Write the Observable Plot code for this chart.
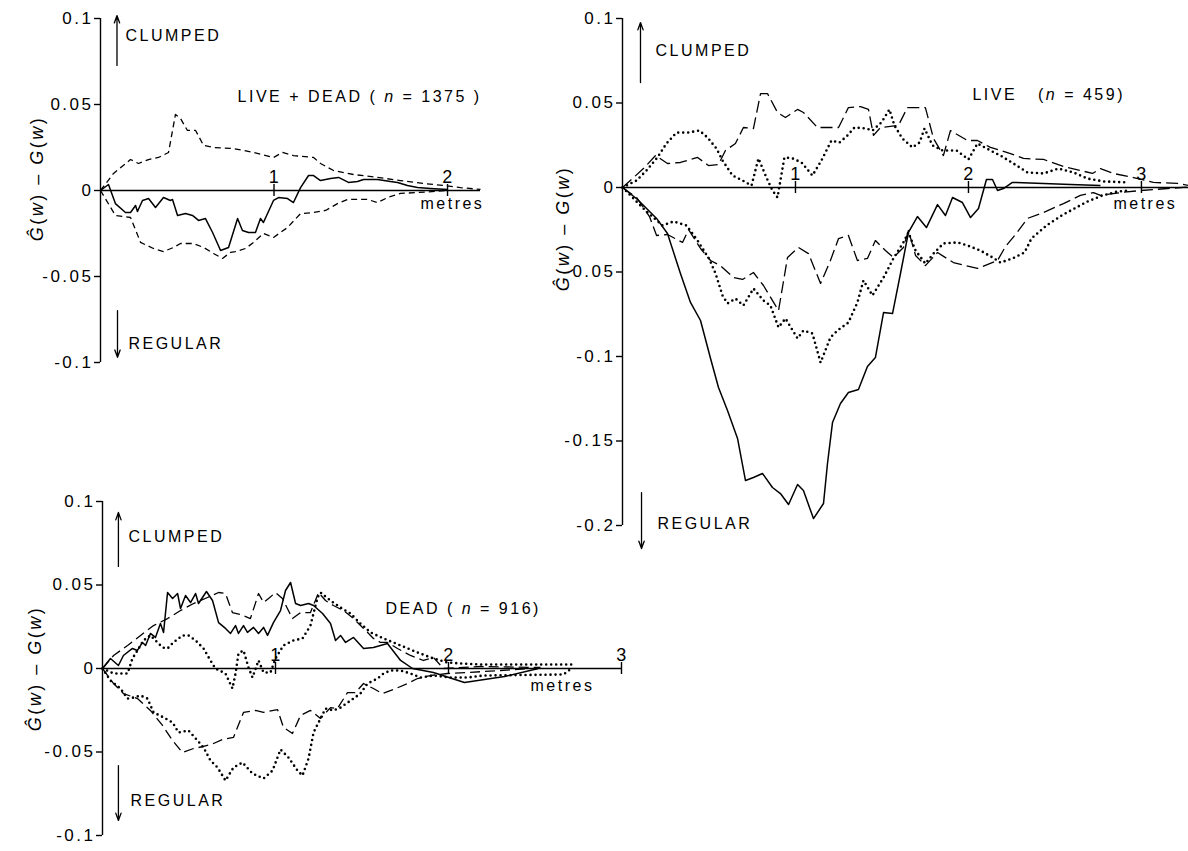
<!DOCTYPE html>
<html>
<head>
<meta charset="utf-8">
<script src="https://cdn.jsdelivr.net/npm/d3@7"></script>
<script src="https://cdn.jsdelivr.net/npm/@observablehq/plot@0.6"></script>
<style>
  html, body { margin: 0; padding: 0; background: #fff; }
  #wrap { position: relative; width: 1188px; height: 851px; overflow: hidden; background: #fff; }
  .panel { position: absolute; }
  .panel svg { overflow: visible; }
  .panel text { letter-spacing: 2.5px; }
</style>
</head>
<body>
<div id="wrap"></div>
<script>
// ---------------- DATA ----------------
// LIVE + DEAD (n = 1375): [distance in metres, Ghat(w) - G(w)]
const ldObserved = [[0,0],[0.046,0.0035],[0.086,-0.0076],[0.144,-0.0128],[0.173,-0.0128],[0.202,-0.0087],[0.213,-0.0122],[0.242,-0.0058],[0.277,-0.0047],[0.317,-0.0099],[0.363,-0.0041],[0.403,-0.0058],[0.415,-0.0052],[0.444,-0.0145],[0.490,-0.0134],[0.530,-0.0145],[0.565,-0.0174],[0.605,-0.0163],[0.646,-0.0244],[0.692,-0.0349],[0.738,-0.0331],[0.790,-0.0163],[0.818,-0.0233],[0.853,-0.0244],[0.893,-0.0244],[0.922,-0.0163],[0.939,-0.0186],[0.997,-0.0058],[1.026,-0.0041],[1.078,-0.0047],[1.112,-0.0070],[1.153,0.0017],[1.199,0.0087],[1.228,0.0087],[1.268,0.0058],[1.326,0.0070],[1.372,0.0076],[1.429,0.0047],[1.481,0.0052],[1.516,0.0064],[1.597,0.0064],[1.671,0.0052],[1.712,0.0047],[1.769,0.0029],[1.827,0.0017],[1.902,0.0012],[2.0,0.0006]];
const ldUpper = [[0,0],[0.075,0.0099],[0.173,0.018],[0.219,0.0157],[0.277,0.018],[0.334,0.0192],[0.392,0.0221],[0.432,0.0442],[0.461,0.0419],[0.501,0.0349],[0.548,0.0349],[0.594,0.0262],[0.651,0.025],[0.767,0.0244],[0.882,0.0221],[0.997,0.0192],[1.049,0.0221],[1.112,0.0203],[1.228,0.0192],[1.268,0.0157],[1.343,0.0116],[1.458,0.0093],[1.597,0.0076],[1.729,0.0058],[1.862,0.0041],[1.977,0.0029],[2.075,0.0017],[2.19,0.0006]];
const ldLower = [[0,0],[0.086,-0.0145],[0.173,-0.0157],[0.231,-0.0302],[0.305,-0.0337],[0.363,-0.0355],[0.421,-0.0331],[0.461,-0.0308],[0.536,-0.0308],[0.594,-0.0331],[0.651,-0.0366],[0.703,-0.0395],[0.749,-0.0360],[0.778,-0.0355],[0.836,-0.0337],[0.882,-0.0302],[0.939,-0.0250],[0.997,-0.0273],[1.078,-0.0215],[1.153,-0.0134],[1.228,-0.0128],[1.297,-0.0116],[1.366,-0.0076],[1.424,-0.0052],[1.539,-0.0052],[1.597,-0.0070],[1.654,-0.0041],[1.729,-0.0017],[1.827,-0.0012],[2.0,0]];

// LIVE (n = 459)
const liveObserved = [[0,0],[0.087,-0.0071],[0.197,-0.0183],[0.260,-0.0272],[0.335,-0.0509],[0.393,-0.0680],[0.451,-0.0787],[0.509,-0.1012],[0.555,-0.1183],[0.607,-0.1320],[0.665,-0.1485],[0.711,-0.1734],[0.757,-0.1716],[0.809,-0.1692],[0.867,-0.1775],[0.913,-0.1811],[0.960,-0.1876],[1.012,-0.1757],[1.046,-0.1793],[1.104,-0.1959],[1.162,-0.1870],[1.185,-0.1633],[1.214,-0.1391],[1.260,-0.1278],[1.306,-0.1213],[1.364,-0.1195],[1.416,-0.1059],[1.462,-0.1006],[1.509,-0.0740],[1.561,-0.0746],[1.607,-0.0509],[1.653,-0.0266],[1.705,-0.0172],[1.757,-0.0237],[1.821,-0.0101],[1.867,-0.0166],[1.908,-0.0059],[1.965,-0.0089],[2.012,-0.0178],[2.058,-0.0124],[2.104,0.0047],[2.139,0.0047],[2.168,-0.0018],[2.202,-0.0006],[2.254,0.0030],[2.434,0.0024],[2.590,0.0018],[2.763,0.0012]];
const liveUpperDash = [[0,0],[0.064,0.0059],[0.121,0.0112],[0.191,0.0189],[0.260,0.0142],[0.335,0.0148],[0.434,0.0178],[0.497,0.0130],[0.555,0.0136],[0.595,0.0219],[0.653,0.0260],[0.699,0.0355],[0.757,0.0349],[0.798,0.0556],[0.838,0.0556],[0.896,0.0444],[0.942,0.0414],[1.012,0.0462],[1.046,0.0444],[1.127,0.0355],[1.249,0.0355],[1.306,0.0473],[1.376,0.0479],[1.422,0.0462],[1.451,0.0308],[1.491,0.0355],[1.595,0.0367],[1.647,0.0473],[1.751,0.0473],[1.798,0.0290],[1.855,0.0189],[1.896,0.0337],[1.994,0.0278],[2.052,0.0278],[2.127,0.0237],[2.243,0.0201],[2.318,0.0172],[2.434,0.0166],[2.549,0.0124],[2.647,0.0101],[2.717,0.0083],[2.763,0.0112],[2.838,0.0083],[2.954,0.0059],[3.069,0.0030],[3.208,0.0024],[3.272,0.0012]];
const liveLowerDash = [[0,0],[0.081,-0.0059],[0.156,-0.0172],[0.197,-0.0284],[0.260,-0.0278],[0.347,-0.0325],[0.382,-0.0249],[0.451,-0.0361],[0.509,-0.0432],[0.566,-0.0462],[0.642,-0.0533],[0.694,-0.0544],[0.757,-0.0503],[0.815,-0.0580],[0.902,-0.0728],[0.954,-0.0414],[1.017,-0.0355],[1.075,-0.0391],[1.145,-0.0568],[1.202,-0.0432],[1.249,-0.0302],[1.306,-0.0284],[1.358,-0.0432],[1.416,-0.0420],[1.462,-0.0314],[1.520,-0.0373],[1.566,-0.0414],[1.624,-0.0355],[1.653,-0.0254],[1.694,-0.0402],[1.751,-0.0462],[1.821,-0.0385],[1.913,-0.0444],[2.052,-0.0479],[2.168,-0.0432],[2.214,-0.0349],[2.277,-0.0272],[2.341,-0.0183],[2.434,-0.0148],[2.549,-0.0095],[2.647,-0.0047],[2.723,-0.0030],[2.763,-0.0047],[2.879,-0.0030],[2.994,-0.0018],[3.150,-0.0006],[3.272,0.0003]];
const liveUpperDot = [[0,0],[0.081,0.0041],[0.139,0.0101],[0.202,0.0178],[0.254,0.0260],[0.312,0.0325],[0.376,0.0325],[0.445,0.0337],[0.491,0.0296],[0.543,0.0231],[0.578,0.0160],[0.636,0.0071],[0.694,0.0041],[0.746,0.0012],[0.786,0.0172],[0.832,0.0059],[0.867,-0.0018],[0.896,-0.0059],[0.936,0.0178],[0.983,0.0172],[1.035,0.0148],[1.098,0.0071],[1.150,0.0160],[1.208,0.0278],[1.254,0.0266],[1.301,0.0308],[1.341,0.0355],[1.410,0.0349],[1.445,0.0337],[1.497,0.0385],[1.543,0.0462],[1.572,0.0367],[1.618,0.0290],[1.676,0.0237],[1.717,0.0266],[1.746,0.0349],[1.792,0.0249],[1.850,0.0219],[1.931,0.0219],[2.000,0.0166],[2.052,0.0260],[2.127,0.0219],[2.185,0.0189],[2.260,0.0142],[2.341,0.0089],[2.434,0.0083],[2.520,0.0112],[2.607,0.0089],[2.688,0.0053],[2.780,0.0036],[2.919,0.0030]];
const liveLowerDot = [[0,0],[0.133,-0.0136],[0.231,-0.0225],[0.295,-0.0201],[0.370,-0.0225],[0.434,-0.0314],[0.503,-0.0426],[0.538,-0.0509],[0.578,-0.0639],[0.607,-0.0686],[0.653,-0.0657],[0.699,-0.0698],[0.757,-0.0598],[0.815,-0.0669],[0.855,-0.0698],[0.902,-0.0828],[0.942,-0.0775],[1.012,-0.0893],[1.046,-0.0846],[1.098,-0.0864],[1.145,-0.1036],[1.202,-0.0888],[1.243,-0.0846],[1.306,-0.0799],[1.358,-0.0680],[1.393,-0.0550],[1.445,-0.0639],[1.509,-0.0533],[1.566,-0.0420],[1.624,-0.0325],[1.653,-0.0266],[1.694,-0.0373],[1.751,-0.0450],[1.798,-0.0391],[1.855,-0.0331],[1.936,-0.0325],[1.994,-0.0343],[2.069,-0.0373],[2.139,-0.0414],[2.185,-0.0444],[2.254,-0.0420],[2.324,-0.0385],[2.364,-0.0302],[2.451,-0.0225],[2.538,-0.0166],[2.624,-0.0118],[2.688,-0.0083],[2.775,-0.0047],[2.861,-0.0024],[2.919,-0.0018]];

// DEAD (n = 916)
const deadObserved = [[0,0],[0.046,0.0060],[0.092,0.0018],[0.121,0.0078],[0.173,0.0120],[0.202,0.0108],[0.231,0.0156],[0.249,0.0138],[0.277,0.0210],[0.306,0.0186],[0.335,0.0269],[0.353,0.0216],[0.376,0.0455],[0.405,0.0419],[0.434,0.0449],[0.451,0.0359],[0.480,0.0437],[0.509,0.0395],[0.538,0.0449],[0.555,0.0389],[0.601,0.0461],[0.636,0.0407],[0.671,0.0275],[0.711,0.0240],[0.740,0.0210],[0.769,0.0257],[0.786,0.0210],[0.815,0.0257],[0.838,0.0216],[0.873,0.0246],[0.902,0.0210],[0.931,0.0246],[0.954,0.0198],[0.988,0.0275],[1.029,0.0347],[1.058,0.0467],[1.087,0.0515],[1.116,0.0389],[1.145,0.0377],[1.191,0.0389],[1.220,0.0377],[1.272,0.0329],[1.318,0.0269],[1.347,0.0168],[1.376,0.0198],[1.405,0.0156],[1.451,0.0186],[1.509,0.0120],[1.566,0.0126],[1.647,0.0150],[1.723,0.0048],[1.792,0],[1.913,-0.0024],[2.092,-0.0084],[2.324,-0.0048],[2.520,0]];
const deadUpperDash = [[0,0],[0.064,0.0078],[0.145,0.0138],[0.220,0.0198],[0.295,0.0257],[0.376,0.0299],[0.451,0.0347],[0.526,0.0389],[0.607,0.0425],[0.671,0.0455],[0.711,0.0449],[0.751,0.0335],[0.798,0.0323],[0.855,0.0299],[0.902,0.0449],[0.931,0.0395],[0.960,0.0419],[1.000,0.0455],[1.040,0.0419],[1.098,0.0299],[1.145,0.0335],[1.202,0.0335],[1.249,0.0455],[1.289,0.0407],[1.335,0.0377],[1.393,0.0347],[1.451,0.0299],[1.509,0.0240],[1.566,0.0180],[1.607,0.0156],[1.647,0.0156],[1.705,0.0120],[1.780,0.0078],[1.855,0.0048],[1.913,0.0066],[1.971,0],[2.185,0.0012],[2.532,0.0006]];
const deadLowerDash = [[0,0],[0.064,-0.0090],[0.121,-0.0150],[0.202,-0.0180],[0.277,-0.0251],[0.347,-0.0341],[0.405,-0.0431],[0.462,-0.0503],[0.526,-0.0479],[0.584,-0.0467],[0.642,-0.0449],[0.694,-0.0425],[0.757,-0.0413],[0.815,-0.0263],[0.884,-0.0251],[0.931,-0.0263],[1.012,-0.0246],[1.046,-0.0353],[1.098,-0.0389],[1.145,-0.0281],[1.202,-0.0251],[1.260,-0.0299],[1.318,-0.0234],[1.358,-0.0240],[1.416,-0.0144],[1.462,-0.0144],[1.509,-0.0090],[1.566,-0.0120],[1.618,-0.0150],[1.682,-0.0126],[1.763,-0.0090],[1.821,-0.0060],[1.896,-0.0042],[1.994,-0.0030],[2.110,-0.0024],[2.301,-0.0012],[2.474,0]];
const deadUpperDot = [[0,0],[0.064,-0.0030],[0.145,-0.0030],[0.173,0.0060],[0.202,0.0108],[0.237,0.0168],[0.277,0.0198],[0.306,0.0168],[0.347,0.0126],[0.376,0.0120],[0.410,0.0156],[0.462,0.0198],[0.497,0.0198],[0.538,0.0168],[0.584,0.0120],[0.624,0.0048],[0.653,0],[0.711,-0.0030],[0.751,-0.0120],[0.769,-0.0030],[0.786,0.0090],[0.815,0.0108],[0.844,0.0006],[0.867,-0.0054],[0.902,0.0048],[0.931,-0.0024],[0.971,-0.0024],[1.000,0.0060],[1.046,0.0138],[1.104,0.0168],[1.156,0.0180],[1.202,0.0257],[1.243,0.0425],[1.260,0.0455],[1.318,0.0407],[1.376,0.0365],[1.434,0.0329],[1.491,0.0269],[1.549,0.0216],[1.624,0.0180],[1.723,0.0138],[1.821,0.0096],[1.913,0.0060],[1.994,0.0036],[2.069,0.0030],[2.185,0.0024],[2.711,0.0024]];
const deadLowerDot = [[0,0],[0.046,-0.0072],[0.104,-0.0120],[0.145,-0.0180],[0.179,-0.0174],[0.220,-0.0162],[0.260,-0.0180],[0.295,-0.0263],[0.353,-0.0293],[0.405,-0.0323],[0.439,-0.0383],[0.497,-0.0371],[0.549,-0.0431],[0.584,-0.0473],[0.624,-0.0551],[0.665,-0.0593],[0.711,-0.0671],[0.757,-0.0593],[0.809,-0.0563],[0.867,-0.0629],[0.931,-0.0659],[0.983,-0.0611],[1.029,-0.0485],[1.075,-0.0533],[1.127,-0.0611],[1.156,-0.0641],[1.191,-0.0539],[1.220,-0.0383],[1.249,-0.0323],[1.289,-0.0240],[1.335,-0.0251],[1.376,-0.0234],[1.434,-0.0192],[1.491,-0.0150],[1.532,-0.0090],[1.590,-0.0060],[1.624,-0.0030],[1.665,-0.0012],[1.723,-0.0012],[1.780,-0.0030],[1.838,-0.0054],[1.913,-0.0042],[2.012,-0.0054],[2.110,-0.0054],[2.202,-0.0042],[2.665,-0.0036],[2.711,0]];

// Tick labels
const yTicksSmall = [0.1, 0.05, 0, -0.05, -0.1];
const yTicksLive = [0.1, 0.05, 0, -0.05, -0.1, -0.15, -0.2];
const xTicksLD = [1, 2];
const xTicksLive = [1, 2, 3];
const xTicksDead = [1, 2, 3];

// Texts (asterisks mark italic parts)
const yTitle = "*Ĝ*(*w*) – *G*(*w*)";
const titleLD = "LIVE + DEAD ( *n* = 1375 )";
const titleLive = "LIVE   (*n* = 459)";
const titleDead = "DEAD ( *n* = 916)";

// ---------------- RENDERING ----------------
const FONT = "'Liberation Sans', Arial, Helvetica, sans-serif";
const lineStyles = {
  solid:     {strokeWidth: 1.5, strokeLinecap: "butt"},
  dashShort: {strokeWidth: 1.3, strokeDasharray: "6,4", strokeLinecap: "butt"},
  dashMid:   {strokeWidth: 1.3, strokeDasharray: "10,5", strokeLinecap: "butt"},
  dashLong:  {strokeWidth: 1.3, strokeDasharray: "12,5", strokeLinecap: "butt"},
  dot:       {strokeWidth: 2.6, strokeDasharray: "0,5", strokeLinecap: "round"}
};

function applyItalics(svg) {
  d3.select(svg).selectAll("text").each(function () {
    const s = this.textContent;
    if (!s.includes("*")) return;
    const parts = s.split("*");
    const sel = d3.select(this);
    sel.text(null);
    parts.forEach((p, i) => {
      if (!p) return;
      const t = sel.append("tspan").text(p);
      if (i % 2) t.attr("font-style", "italic");
    });
  });
}

function makePanel(cfg) {
  const marks = [
    Plot.ruleY([0], {stroke: "#000", strokeWidth: 1.6}),
    Plot.ruleX([0], {y1: cfg.yDomain[0], y2: cfg.yDomain[1], stroke: "#000", strokeWidth: 1.4}),
    // y ticks and labels
    Plot.ruleY(cfg.yTicks, {y: d => d, x1: 0, x2: 0, insetLeft: -6, stroke: "#000", strokeWidth: 1.4}),
    Plot.text(cfg.yTicks, {x: 0, y: d => d, text: d => String(d), textAnchor: "end", dx: -7, fontSize: 17, fill: "#000"}),
    // x ticks and labels
    Plot.ruleX(cfg.xTicks, {x: d => d, y1: 0, y2: 0, insetTop: -6, insetBottom: -6, stroke: "#000", strokeWidth: 1.4}),
    Plot.text(cfg.xTicks, {x: d => d, y: 0, text: d => String(d), dx: 1, dy: -8, lineAnchor: "bottom", fontSize: 18, fill: "#000"}),
    ...cfg.series.map(s => Plot.line(s.data, {x: d => d[0], y: d => d[1], stroke: "#000", ...lineStyles[s.style]})),
    Plot.arrow(cfg.arrows, {x1: "x1", y1: "y1", x2: "x2", y2: "y2", stroke: "#000", strokeWidth: 1.3, headLength: 9, headAngle: 40}),
    Plot.text(cfg.labels, {x: "x", y: "y", text: "text", textAnchor: "start", lineAnchor: "bottom", fontSize: 16, fill: "#000"}),
    Plot.text([cfg.yTitle], {x: "x", y: "y", text: "text", rotate: -90, fontSize: 18, fill: "#000"})
  ];
  const svg = Plot.plot({
    width: cfg.width, height: cfg.height,
    marginLeft: cfg.margin[0], marginRight: cfg.margin[1], marginTop: cfg.margin[2], marginBottom: cfg.margin[3],
    x: {domain: cfg.xDomain, axis: null},
    y: {domain: cfg.yDomain, axis: null},
    style: {fontFamily: FONT, fontSize: "16px", background: "transparent", color: "#000", overflow: "visible"},
    marks
  });
  applyItalics(svg);
  const div = document.createElement("div");
  div.className = "panel";
  div.style.left = cfg.left + "px";
  div.style.top = cfg.top + "px";
  div.style.width = cfg.width + "px";
  div.style.height = cfg.height + "px";
  div.appendChild(svg);
  document.getElementById("wrap").appendChild(div);
}

// Panel: DEAD (bottom-left)
makePanel({
  left: 0, top: 480, width: 640, height: 371, margin: [102, 19, 21, 16],
  xDomain: [0, 3], yDomain: [-0.1, 0.1], yTicks: yTicksSmall, xTicks: xTicksDead,
  series: [
    {data: deadUpperDash, style: "dashMid"},
    {data: deadLowerDash, style: "dashMid"},
    {data: deadUpperDot, style: "dot"},
    {data: deadLowerDot, style: "dot"},
    {data: deadObserved, style: "solid"}
  ],
  arrows: [{x1: 0.092, y1: 0.0611, x2: 0.092, y2: 0.0934}, {x1: 0.092, y1: -0.0581, x2: 0.092, y2: -0.091}],
  labels: [
    {x: 0.150, y: 0.0760, text: "CLUMPED"},
    {x: 0.162, y: -0.0826, text: "REGULAR"},
    {x: 1.636, y: 0.0329, text: titleDead},
    {x: 2.474, y: -0.0132, text: "metres"}
  ],
  yTitle: {x: -0.387, y: 0, text: yTitle}
});

// Panel: LIVE + DEAD (top-left)
makePanel({
  left: 0, top: 0, width: 490, height: 380, margin: [100, 10, 18, 18],
  xDomain: [0, 2.19], yDomain: [-0.1, 0.1], yTicks: yTicksSmall, xTicks: xTicksLD,
  series: [
    {data: ldUpper, style: "dashShort"},
    {data: ldLower, style: "dashShort"},
    {data: ldObserved, style: "solid"}
  ],
  arrows: [{x1: 0.095, y1: 0.0727, x2: 0.095, y2: 0.1017}, {x1: 0.098, y1: -0.0698, x2: 0.098, y2: -0.097}],
  labels: [
    {x: 0.144, y: 0.0872, text: "CLUMPED"},
    {x: 0.161, y: -0.0924, text: "REGULAR"},
    {x: 0.79, y: 0.0512, text: titleLD},
    {x: 1.844, y: -0.011, text: "metres"}
  ],
  yTitle: {x: -0.363, y: 0.007, text: yTitle}
});

// Panel: LIVE (top-right)
makePanel({
  left: 540, top: 0, width: 648, height: 560, margin: [82, 0, 18, 35],
  xDomain: [0, 3.272], yDomain: [-0.2, 0.1], yTicks: yTicksLive, xTicks: xTicksLive,
  series: [
    {data: liveUpperDash, style: "dashLong"},
    {data: liveLowerDash, style: "dashLong"},
    {data: liveUpperDot, style: "dot"},
    {data: liveLowerDot, style: "dot"},
    {data: liveObserved, style: "solid"}
  ],
  arrows: [{x1: 0.104, y1: 0.0621, x2: 0.104, y2: 0.0976}, {x1: 0.110, y1: -0.1805, x2: 0.110, y2: -0.2136}],
  labels: [
    {x: 0.191, y: 0.0781, text: "CLUMPED"},
    {x: 0.202, y: -0.2018, text: "REGULAR"},
    {x: 2.023, y: 0.0515, text: titleLive},
    {x: 2.838, y: -0.013, text: "metres"}
  ],
  yTitle: {x: -0.341, y: -0.0243, text: yTitle}
});
</script>
</body>
</html>
